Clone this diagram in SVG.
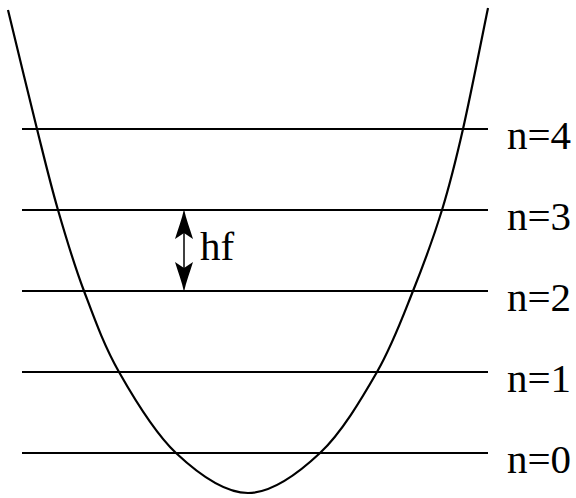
<svg xmlns="http://www.w3.org/2000/svg" width="576" height="498" viewBox="0 0 576 498">
<style>
.lvl{stroke:#000;stroke-width:2;fill:none}
.curve{stroke:#000;stroke-width:2.2;fill:none}
.lbl{font-family:"Liberation Serif","Times New Roman",serif;font-size:41px;fill:#000}
.head{fill:#000;stroke:none}
</style>
<rect width="576" height="498" fill="#fff"/>
<g id="well">
<path class="curve" d="M8,10 C12.8,29.8 28.7,95.7 37,129 C45.3,162.3 50.2,183 58,210 C65.8,237 73.8,264 84,291 C94.2,318 103.7,345 119,372 C134.3,399 154.5,432.8 176,453 C197.5,473.2 224,493 248,493 C272,493 298.5,473.2 320,453 C341.5,432.8 361.5,399 377,372 C392.5,345 402.2,318 413,291 C423.8,264 433.7,237 442,210 C450.3,183 455.3,162.7 463,129 C470.7,95.3 483.8,28.2 488,8"/>
</g>
<g id="level4"><line class="lvl" x1="22" y1="129" x2="488" y2="129"/><text class="lbl" x="507" y="149">n=4</text></g>
<g id="level3"><line class="lvl" x1="22" y1="210" x2="488" y2="210"/><text class="lbl" x="507" y="230">n=3</text></g>
<g id="level2"><line class="lvl" x1="22" y1="291" x2="488" y2="291"/><text class="lbl" x="507" y="311">n=2</text></g>
<g id="level1"><line class="lvl" x1="22" y1="372" x2="488" y2="372"/><text class="lbl" x="507" y="392">n=1</text></g>
<g id="level0"><line class="lvl" x1="22" y1="453" x2="488" y2="453"/><text class="lbl" x="507" y="473">n=0</text></g>
<g id="connectors">
<line x1="184" y1="225" x2="184" y2="276" stroke="#000" stroke-width="1.5"/>
<path class="head" d="M184,209 C186,219 190,229 193,239 L184,233 L175,239 C178,229 182,219 184,209 Z"/>
<path class="head" d="M184,292 C186,282 190,272 193,262 L184,268 L175,262 C178,272 182,282 184,292 Z"/>
</g>
<g id="hf"><text class="lbl" x="200" y="260">hf</text></g>
</svg>
